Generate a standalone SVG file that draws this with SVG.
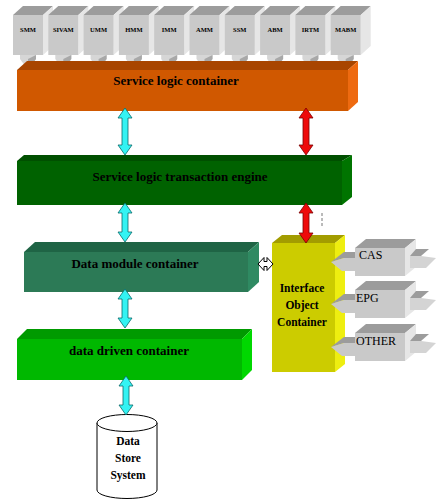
<svg xmlns="http://www.w3.org/2000/svg" width="440" height="501" viewBox="0 0 440 501">
<style>
.lbl{font-family:"Liberation Serif",serif;font-weight:bold;fill:#000;text-anchor:middle}
.big{font-size:13px}
.mid{font-size:11.5px}
.mod{font-size:6.5px}
.plain{font-family:"Liberation Serif",serif;font-size:12px;fill:#000}
.mf{fill:#c9c9c9}.mt{fill:#9c9c9c}.ms{fill:#e6e6e6}
.cy{fill:#33f3f3;stroke:#0a6a6a;stroke-width:0.8}
.rd{fill:#ee0a0a;stroke:#7a0000;stroke-width:0.8}
</style>
<defs>
<g id="mbox">
<polygon class="mt" points="0,15 10,6 40,6 30,15"/>
<polygon class="ms" points="30,15 40,6 40,46 30,55"/>
<rect class="mf" x="0" y="15" width="30" height="40"/>
<polygon points="7,55 23,55 23,59 15,70 7,59" fill="#d6d6d6"/>
<polygon points="15,59 23,55 23,59 15,70" fill="#a8a8a8"/>
</g>
<g id="ext">
<polygon points="355,252 344,252 331,262 344,258 355,258" fill="#9c9c9c"/>
<polygon points="355,258 344,258 331,262 342,271 355,271" fill="#c9c9c9"/>
<polygon class="mt" points="355,248 366,239 416,239 405,248"/>
<polygon class="ms" points="405,248 416,239 416,267 405,276"/>
<rect class="mf" x="355" y="248" width="50" height="28"/>
<polygon points="410,256 416,249 429,249 421,256" fill="#9c9c9c"/>
<polygon points="410,256 421,256 436,258 426,268 410,268" fill="#d4d4d4"/>
</g>
</defs>

<g id="modules">
<g id="m-smm"><use href="#mbox" x="13" y="0"/><text class="lbl mod" x="28" y="32">SMM</text></g>
<g id="m-sivam"><use href="#mbox" x="48.3" y="0"/><text class="lbl mod" x="63.3" y="32">SIVAM</text></g>
<g id="m-umm"><use href="#mbox" x="83.6" y="0"/><text class="lbl mod" x="98.6" y="32">UMM</text></g>
<g id="m-hmm"><use href="#mbox" x="118.9" y="0"/><text class="lbl mod" x="133.9" y="32">HMM</text></g>
<g id="m-imm"><use href="#mbox" x="154.2" y="0"/><text class="lbl mod" x="169.2" y="32">IMM</text></g>
<g id="m-amm"><use href="#mbox" x="189.5" y="0"/><text class="lbl mod" x="204.5" y="32">AMM</text></g>
<g id="m-ssm"><use href="#mbox" x="224.8" y="0"/><text class="lbl mod" x="239.8" y="32">SSM</text></g>
<g id="m-abm"><use href="#mbox" x="260.1" y="0"/><text class="lbl mod" x="275.1" y="32">ABM</text></g>
<g id="m-irtm"><use href="#mbox" x="295.4" y="0"/><text class="lbl mod" x="310.4" y="32">IRTM</text></g>
<g id="m-mabm"><use href="#mbox" x="330.7" y="0"/><text class="lbl mod" x="345.7" y="32">MABM</text></g>
</g>

<g id="service-logic-container">
<polygon points="17,70 27,61 358,61 348,70" fill="#a84500"/>
<polygon points="348,70 358,61 358,102 348,111" fill="#ee6a10"/>
<rect x="17" y="70" width="331" height="41" fill="#d05800"/>
<text class="lbl big" x="176" y="85">Service logic container</text>
</g>

<g id="transaction-engine">
<polygon points="17,161 24,155 352,155 342,161" fill="#004f00"/>
<polygon points="342,161 352,155 352,197 342,205" fill="#007400"/>
<rect x="17" y="161" width="325" height="44" fill="#006200"/>
<text class="lbl big" x="180" y="181">Service logic transaction engine</text>
</g>

<g id="data-module-container">
<polygon points="24,252 35,242 259,242 248,252" fill="#1f6445"/>
<polygon points="248,252 259,242 259,282 248,292" fill="#2f8a62"/>
<rect x="24" y="252" width="224" height="40" fill="#2c7a56"/>
<text class="lbl big" x="135" y="268">Data module container</text>
</g>

<g id="data-driven-container">
<polygon points="17,339 27,329 252,329 242,339" fill="#009a00"/>
<polygon points="242,339 252,329 252,370 242,380" fill="#00d800"/>
<rect x="17" y="339" width="225" height="41" fill="#00b800"/>
<text class="lbl big" x="129" y="355">data driven container</text>
</g>

<g id="interface-object-container">
<polygon points="272,243 282,235 345,235 335,243" fill="#a29c00"/>
<polygon points="335,243 345,235 345,364 335,372" fill="#eeee10"/>
<rect x="272" y="243" width="63" height="129" fill="#cccc00"/>
<text class="lbl mid" x="302" y="292">Interface</text>
<text class="lbl mid" x="302" y="309">Object</text>
<text class="lbl mid" x="302" y="326">Container</text>
</g>

<g id="cas"><use href="#ext"/><text class="plain" x="359" y="259">CAS</text></g>
<g id="epg"><use href="#ext" y="42"/><text class="plain" x="356" y="302">EPG</text></g>
<g id="other"><use href="#ext" y="85"/><text class="plain" x="356" y="345">OTHER</text></g>

<g id="data-store-system">
<path d="M97,423 V490 A30,8.5 0 0 0 157,490 V423" fill="#fff" stroke="#000" stroke-width="1"/>
<ellipse cx="127" cy="423" rx="30" ry="8.5" fill="#fff" stroke="#000" stroke-width="1"/>
<text class="lbl" font-size="11.5" x="128" y="445">Data</text>
<text class="lbl" font-size="11.5" x="128" y="462">Store</text>
<text class="lbl" font-size="11.5" x="128" y="479">System</text>
</g>

<g id="connectors">
<polygon class="cy" points="125,108 132,118 128,118 128,145 132,145 125,155 118,145 122,145 122,118 118,118"/>
<polygon class="rd" points="306,108 313,118 309,118 309,145 313,145 306,155 299,145 303,145 303,118 299,118"/>
<polygon class="cy" points="125,203 132,213 128,213 128,232 132,232 125,242 118,232 122,232 122,213 118,213"/>
<polygon class="rd" points="306,203 313,213 309,213 309,233 313,233 306,243 299,233 303,233 303,213 299,213"/>
<polygon class="cy" points="125,289 132,299 128,299 128,318 132,318 125,328 118,318 122,318 122,299 118,299"/>
<polygon class="cy" points="126,376 133,386 129,386 129,405 133,405 126,415 119,405 123,405 123,386 119,386"/>
<polygon points="258,264 264,257.5 264,261.5 267,261.5 267,257.5 273,264 267,270.5 267,266.5 264,266.5 264,270.5" fill="#fff" stroke="#000" stroke-width="1"/>
<line x1="322" y1="213" x2="322" y2="228" stroke="#777" stroke-width="1" stroke-dasharray="3,2"/>
</g>
</svg>
